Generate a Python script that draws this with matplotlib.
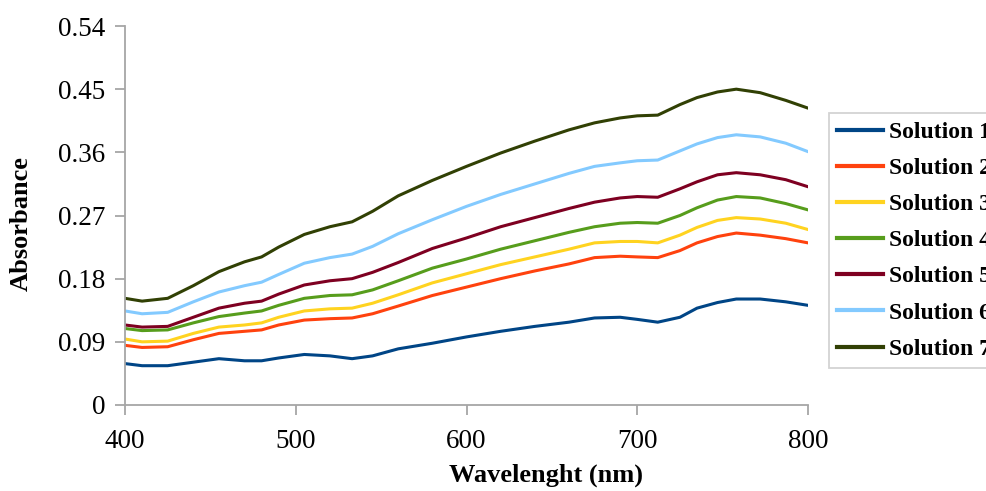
import matplotlib
matplotlib.use("Agg")
import matplotlib.pyplot as plt

plt.rcParams['font.family'] = ['Liberation Serif', 'DejaVu Serif']

# wavelength grid (nm) and absorbance values
wavelength = [400, 410, 425, 440, 455, 470, 480, 490, 505, 520, 533, 545, 560, 580,
              600, 620, 640, 660, 675, 690, 700, 712, 725, 735, 747, 758, 772, 787, 800]

sol1 = [0.059, 0.056, 0.056, 0.061, 0.066, 0.063, 0.063, 0.067, 0.072, 0.070, 0.066, 0.070,
        0.080, 0.088, 0.097, 0.105, 0.112, 0.118, 0.124, 0.125, 0.122, 0.118, 0.125, 0.138,
        0.146, 0.151, 0.151, 0.147, 0.142]
sol2 = [0.085, 0.082, 0.083, 0.093, 0.102, 0.105, 0.107, 0.114, 0.121, 0.123, 0.124, 0.130,
        0.141, 0.156, 0.168, 0.180, 0.191, 0.201, 0.210, 0.212, 0.211, 0.210, 0.220, 0.231,
        0.240, 0.245, 0.242, 0.237, 0.231]
sol3 = [0.094, 0.090, 0.091, 0.102, 0.111, 0.114, 0.117, 0.125, 0.134, 0.137, 0.138, 0.145,
        0.157, 0.174, 0.187, 0.200, 0.211, 0.222, 0.231, 0.233, 0.233, 0.231, 0.242, 0.253,
        0.263, 0.267, 0.265, 0.259, 0.250]
sol4 = [0.109, 0.106, 0.107, 0.117, 0.126, 0.131, 0.134, 0.142, 0.152, 0.156, 0.157, 0.164,
        0.177, 0.195, 0.208, 0.222, 0.234, 0.246, 0.254, 0.259, 0.260, 0.259, 0.270, 0.281,
        0.292, 0.297, 0.295, 0.287, 0.278]
sol5 = [0.114, 0.111, 0.112, 0.125, 0.138, 0.145, 0.148, 0.158, 0.171, 0.177, 0.180, 0.189,
        0.203, 0.223, 0.238, 0.254, 0.267, 0.280, 0.289, 0.295, 0.297, 0.296, 0.308, 0.318,
        0.328, 0.331, 0.328, 0.321, 0.311]
sol6 = [0.134, 0.130, 0.132, 0.147, 0.161, 0.170, 0.175, 0.186, 0.202, 0.210, 0.215, 0.226,
        0.244, 0.264, 0.283, 0.300, 0.315, 0.330, 0.340, 0.345, 0.348, 0.349, 0.362, 0.372,
        0.381, 0.385, 0.382, 0.373, 0.361]
sol7 = [0.152, 0.148, 0.152, 0.170, 0.190, 0.204, 0.211, 0.225, 0.243, 0.254, 0.261, 0.276,
        0.298, 0.320, 0.340, 0.359, 0.376, 0.392, 0.402, 0.409, 0.412, 0.413, 0.428, 0.438,
        0.446, 0.450, 0.445, 0.434, 0.423]

labels = ["Solution 1", "Solution 2", "Solution 3", "Solution 4",
          "Solution 5", "Solution 6", "Solution 7"]
colors = ["#004586", "#ff420e", "#ffd320", "#579d1c", "#7e0021", "#83caff", "#314004"]
yticks = [0, 0.09, 0.18, 0.27, 0.36, 0.45, 0.54]
ytick_labels = ["0", "0.09", "0.18", "0.27", "0.36", "0.45", "0.54"]

fig = plt.figure(figsize=(9.87, 4.91), dpi=100)
ax = fig.add_axes([125 / 987, 1 - 405 / 491, 683 / 987, 379 / 491])

for ys, lab, c in zip([sol1, sol2, sol3, sol4, sol5, sol6, sol7], labels, colors):
    ax.plot(wavelength, ys, color=c, lw=2.2, label=lab)

ax.set_xlim(400, 800)
ax.set_ylim(0, 0.54)
ax.set_xticks([400, 500, 600, 700, 800])
ax.set_yticks(yticks)
ax.set_yticklabels(ytick_labels)

grey = "#a6a6a6"
for s in ["top", "right"]:
    ax.spines[s].set_visible(False)
for s in ["left", "bottom"]:
    ax.spines[s].set_color(grey)
    ax.spines[s].set_linewidth(1.3)
ax.tick_params(axis="both", colors=grey, length=7, width=1.3, labelsize=19.5,
               labelcolor="black")
ax.tick_params(axis="y", pad=7)
ax.tick_params(axis="x", pad=10)

ax.set_xlabel("Wavelenght (nm)", fontsize=19, fontweight="bold", labelpad=6)
ax.xaxis.set_label_coords((546 - 125) / 683, -0.155)
ax.set_ylabel("Absorbance", fontsize=19, fontweight="bold")
ax.yaxis.set_label_coords(-0.135, (405 - 224) / 379)

leg = ax.legend(loc="upper left", bbox_to_anchor=(829 / 987, 1 - 113 / 491),
                bbox_transform=fig.transFigure, frameon=True, fancybox=False,
                prop={"weight": "bold", "size": 17}, handlelength=1.95,
                handletextpad=0.25, labelspacing=0.62, borderpad=0.35,
                borderaxespad=0)
leg.get_frame().set_edgecolor("#c8c8c8")
leg.get_frame().set_linewidth(1.3)
for line in leg.get_lines():
    line.set_linewidth(3)

fig.savefig("out.png", dpi=100)
